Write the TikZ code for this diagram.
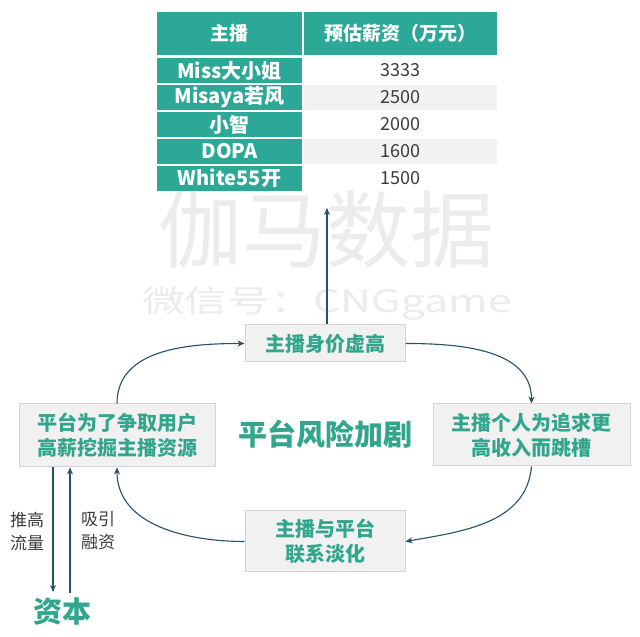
\documentclass[tikz,border=0pt]{standalone}
\usepackage{fontspec}
\setmainfont{Noto Sans CJK SC}
\usepackage{xcolor}
\usepackage{tikz}
\usetikzlibrary{positioning, arrows.meta}
\definecolor{tealc}{RGB}{43,168,150}
\definecolor{boxtext}{RGB}{50,166,140}
\definecolor{boxfill}{RGB}{241,241,241}
\definecolor{boxline}{RGB}{212,212,212}
\definecolor{arrc}{RGB}{36,82,102}
\definecolor{valtext}{RGB}{60,60,60}
\definecolor{stripe}{RGB}{242,242,242}
\definecolor{wmark}{RGB}{236,236,236}

\begin{document}
\begin{tikzpicture}[x=1pt, y=1pt,
  head/.style={rectangle, fill=tealc, minimum height=43pt, inner sep=0pt, text=white, font=\bfseries\fontsize{19}{22}\selectfont},
  namecell/.style={rectangle, fill=tealc, minimum width=145pt, minimum height=25pt, inner sep=0pt, text=white, font=\bfseries\fontsize{20}{22}\selectfont},
  valcell/.style={rectangle, minimum width=193pt, minimum height=25pt, inner sep=0pt, text=valtext, font=\fontsize{18}{20}\selectfont},
  stepbox/.style={rectangle, fill=boxfill, draw=boxline, line width=1pt, inner sep=0pt, align=center, text=boxtext, font=\bfseries\fontsize{20}{25}\selectfont},
  note/.style={align=center, text=valtext, font=\fontsize{17}{23}\selectfont},
  arr/.style={-{Stealth[length=7pt, width=6pt]}, line width=1.1pt, draw=arrc}
]
\useasboundingbox[fill=white] (0,0) rectangle (640,637);

% --- Watermark ---
\node[text=wmark, font=\fontsize{84}{84}\selectfont] (wm1) at (326, 407) {伽马数据};
\node[text=wmark, font=\fontsize{31}{31}\selectfont, xscale=1.38, transform shape] (wm2) at (327, 334) {微信号：CNGgame};

% --- Salary table ---
\node[head, minimum width=145pt] (h1) at (229.5, 603.5) {主播};
\node[head, minimum width=193pt] (h2) at (400.5, 603.5) {预估薪资（万元）};

\node[namecell] (n1) at (229.5, 566.5) {Miss大小姐};
\node[valcell] (v1) at (400.5, 566.5) {3333};
\node[namecell] (n2) at (229.5, 539.5) {Misaya若风};
\node[valcell, fill=stripe] (v2) at (400.5, 539.5) {2500};
\node[namecell] (n3) at (229.5, 512.5) {小智};
\node[valcell] (v3) at (400.5, 512.5) {2000};
\node[namecell] (n4) at (229.5, 485.5) {DOPA};
\node[valcell, fill=stripe] (v4) at (400.5, 485.5) {1600};
\node[namecell] (n5) at (229.5, 458.5) {White55开};
\node[valcell] (v5) at (400.5, 458.5) {1500};

% --- Cycle ---
\node[stepbox, minimum width=160pt, minimum height=37pt] (tbox) at (325, 293.5) {主播身价虚高};
\node[stepbox, minimum width=197pt, minimum height=62pt] (rbox) at (531.5, 202) {主播个人为追求更\\高收入而跳槽};
\node[stepbox, minimum width=160pt, minimum height=61pt] (bbox) at (325, 95.5) {主播与平台\\联系淡化};
\node[stepbox, minimum width=196pt, minimum height=63pt] (lbox) at (117, 201.5) {平台为了争取用户\\高薪挖掘主播资源};

\node[text=boxtext, font=\bfseries\fontsize{29}{29}\selectfont] (risk) at (325, 203) {平台风险加剧};

\draw[arr] (lbox.north) to[out=90, in=180] (tbox.west);
\draw[arr] (tbox.east) to[out=0, in=90] (rbox.north);
\draw[arr] (rbox.south) to[out=-95, in=10] (bbox.east);
\draw[arr] (bbox.west) to[out=180, in=-90] (lbox.south);

% up to the table
\coordinate (tabtip) at (327, 429);
\draw[arr] (tbox.north -| tabtip) -- (tabtip);

% --- Capital ---
\node[text=boxtext, font=\bfseries\fontsize{29}{29}\selectfont] (cap) at (62, 25) {资本};
\coordinate (dn) at (53, 45);
\coordinate (up) at (70, 44);
\draw[arr] (dn |- lbox.south) -- (dn);
\draw[arr] (up) -- (up |- lbox.south);
\node[note] (push) at (27, 106) {推高\\流量};
\node[note] (pull) at (98, 106) {吸引\\融资};

\end{tikzpicture}
\end{document}
